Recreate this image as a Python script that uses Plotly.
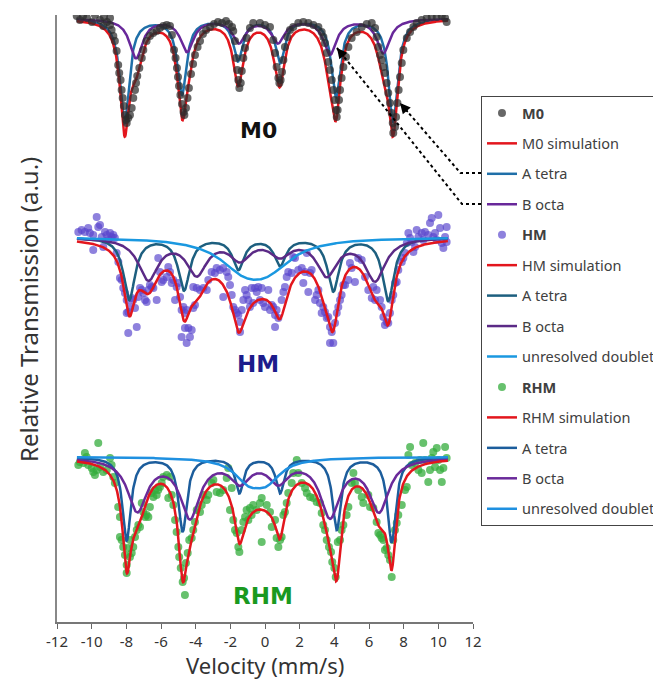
import numpy as np
import plotly.graph_objects as go

# ---------------- axis ranges and ticks ----------------
X_RANGE = [-12, 12]      # velocity, mm/s
Y_RANGE = [0, 607]       # relative transmission, a.u. (spectra stacked)
x_tick_values = [-12, -10, -8, -6, -4, -2, 0, 2, 4, 6, 8, 10, 12]
x_tick_labels = ["-12", "-10", "-8", "-6", "-4", "-2", "0", "2", "4", "6", "8", "10", "12"]

# ---------------- measured spectra ----------------
# M0
m0_v = [-10.86, -10.68, -10.50, -10.27, -9.98, -9.81, -9.52, -9.33, -9.29, -9.12, -8.94, -8.94, -8.85,
        -8.75, -8.66, -8.56, -8.47, -8.41, -8.33, -8.27, -8.21, -8.14, -8.08, -8.02, -7.98, -7.89, -7.79,
        -7.69, -7.60, -7.50, -7.44, -7.37, -7.25, -7.11, -7.02, -6.83, -6.64, -6.45, -6.25, -6.06, -5.87,
        -5.67, -5.48,
        -5.37, -5.25, -5.16, -5.08, -5.02, -4.96, -4.88, -4.79, -4.70, -4.65, -4.56, -4.47, -4.39, -4.27,
        -4.15, -4.04, -3.89, -3.75, -3.58, -3.40, -3.17, -2.94, -2.71, -2.48, -2.25, -2.08, -1.90,
        -1.83, -1.73, -1.67, -1.60, -1.54, -1.48, -1.40, -1.34, -1.25, -1.15, -1.06, -0.87, -0.68, -0.29, 0.00,
        0.29, 0.48, 0.58, 0.67, 0.77, 0.83, 0.90, 0.98, 1.06, 1.15, 1.29, 1.44, 1.63, 1.92, 2.21, 2.50,
        2.79, 3.08, 3.27,
        3.37, 3.46, 3.56, 3.65, 3.75, 3.85, 3.94, 4.02, 4.10, 4.14, 4.19, 4.27, 4.33, 4.42, 4.52, 4.67,
        4.81, 5.00, 5.29, 5.58, 5.87, 6.16, 6.35,
        6.44, 6.54, 6.64, 6.73, 6.83, 6.92, 7.02, 7.11, 7.21, 7.31, 7.37, 7.40, 7.50, 7.56, 7.64, 7.71,
        7.79, 7.89, 7.98, 8.18, 8.37, 8.56, 8.75, 9.04, 9.33, 9.62, 9.91, 10.20, 10.39, 10.48]
m0_t = [606, 602, 606, 604, 600, 607, 602, 596, 605, 600, 604, 597, 592,
        586, 581, 571, 557, 549, 542, 532, 524, 516, 507, 502, 499, 504, 507,
        514, 524, 532, 539, 546, 554, 564, 572, 581, 586, 589, 591, 594, 596,
        597, 596,
        587, 572, 564, 554, 545, 536, 527, 518, 510, 507, 514, 524, 534, 548,
        558, 567, 575, 581, 588, 592, 595, 598, 600, 599, 601, 598, 595,
        591, 581, 564, 552, 542, 534, 539, 551, 564, 574, 584, 594, 599, 599, 597,
        595, 582, 569, 555, 544, 539, 542, 550, 562, 575, 585, 592, 595, 599, 600, 599,
        597, 595, 590,
        585, 579, 569, 560, 552, 542, 532, 522, 512, 505, 512, 522, 532, 544, 555, 565,
        575, 584, 590, 595, 598, 599, 594,
        585, 575, 567, 562, 555, 549, 539, 529, 519, 509, 499, 489, 495, 505, 519, 532,
        545, 559, 572, 584, 590, 595, 599, 602, 604, 605, 605, 606, 604, 600]

# HM
hm_v = [-10.77, -10.58, -10.39, -10.20, -10.10, -9.91, -9.71, -9.62, -9.52, -9.42, -9.23, -9.13, -8.94,
        -8.85, -8.75, -8.66, -9.91, -9.33, -9.04, -8.56, -8.46, -8.37, -8.27, -8.18, -8.08, -7.98, -7.98,
        -7.89, -7.79, -7.69, -7.60, -7.50, -7.40, -7.89, -7.31, -7.21, -7.11, -7.02, -6.92, -6.83, -6.73,
        -6.64, -6.54, -6.44, -6.25, -6.16, -6.06, -5.96, -5.87, -5.67, -5.58, -5.48, -5.38, -5.29, -5.19,
        -5.10, -5.00, -4.90, -4.81, -4.71, -4.62, -4.52, -4.42, -4.33, -4.23, -4.62, -4.81, -4.52, -4.14,
        -4.04, -4.14, -3.94, -3.75, -3.56, -3.36, -3.27, -3.08, -2.89, -2.79, -2.60, -2.41, -2.21, -2.12,
        -2.41, -2.02, -1.92, -1.83, -1.73, -1.63, -1.54, -1.44, -1.44, -1.34, -1.25, -1.15, -1.06, -0.96,
        -0.87, -0.77, -0.68, -0.58, -0.48, -0.39, -0.29, -0.19, -0.10, 0.00, 0.19, 0.29, 0.39, 0.48,
        0.58, 0.67, 0.58, 0.77, 0.96, 1.06, 1.15, 1.25, 1.34, 1.54, 1.63, 1.73, 1.92, 2.12, 2.21, 2.31,
        2.41, 2.50, 2.60, 2.69, 2.89, 2.98, 3.08, 3.17, 3.27, 3.36, 3.46, 3.56, 3.65, 3.75, 3.85, 3.75,
        3.94, 4.04, 4.14, 4.23, 4.33, 4.42, 4.52, 4.62, 4.81, 4.90, 5.00, 5.19, 5.38, 5.58, 5.77, 5.96,
        6.16, 6.25, 6.35, 6.44, 6.64, 6.73, 6.83, 6.92, 7.02, 7.11, 7.21, 7.31, 7.40, 7.50, 7.60, 7.69,
        7.89, 7.98, 8.08, 8.18, 8.27, 8.37, 8.46, 8.56, 8.66, 8.75, 8.85, 9.04, 9.13, 9.23, 9.42, 9.52,
        9.62, 9.71, 9.81, 9.91, 10.00, 10.10, 10.20, 10.29, 10.39, 10.48, 10.48]
hm_t = [390, 392, 390, 394, 389, 387, 405, 395, 397, 385, 390, 387, 389,
        385, 387, 384, 372, 375, 382, 369, 360, 344, 342, 334, 329, 322, 309,
        310, 315, 324, 322, 314, 295, 289, 325, 334, 332, 329, 322, 320, 332,
        337, 335, 334, 322, 364, 350, 340, 342, 345, 355, 350, 339, 342, 322,
        335, 339, 325, 312, 315, 309, 312, 294, 285, 292, 294, 285, 279, 314,
        317, 335, 334, 332, 334, 332, 342, 350, 349, 354, 352, 354, 350, 345,
        325, 337, 327, 315, 312, 309, 307, 300, 290, 312, 322, 332, 327, 322,
        315, 334, 319, 334, 330, 335, 322, 334, 319, 315, 332, 312, 317, 315,
        307, 312, 295, 304, 322, 330, 335, 345, 350, 349, 365, 364, 352, 354, 339, 350,
        369, 330, 349, 352, 322, 327, 332, 319, 309, 315, 310, 304, 305, 295, 290, 279,
        279, 299, 309, 315, 322, 327, 337, 337, 342, 359, 354, 340, 364, 362, 345, 332,
        324, 335, 322, 332, 322, 315, 305, 297, 300, 299, 309, 322, 327, 339, 340, 352,
        360, 364, 369, 379, 389, 384, 380, 370, 375, 392, 385, 389, 382, 390, 387, 399,
        404, 385, 389, 382, 407, 394, 379, 374, 385, 395, 380]

# RHM
rhm_v = [-9.62, -10.77, -10.68, -10.48, -10.39, -10.29, -10.20, -10.00, -9.91, -9.81, -9.71, -9.52, -9.33,
         -9.13, -8.94, -8.85, -8.75, -8.66, -8.47, -8.37, -8.37, -8.27, -8.18, -8.08, -7.98, -7.98, -7.89,
         -7.79, -7.69, -7.79, -7.60, -7.50, -7.40, -7.31, -7.21, -7.11, -7.02, -6.92, -6.83, -6.73, -6.64,
         -6.54, -6.44, -6.35, -6.25, -6.16, -6.06, -5.96, -5.87, -5.67, -5.58, -5.48, -5.38, -5.29, -5.19,
         -5.10, -5.00, -4.95, -4.86, -4.75, -4.67, -4.62, -4.56, -4.46, -4.37, -4.23, -4.14, -4.04, -3.94,
         -3.75, -3.65, -3.56, -3.36, -3.27, -3.08, -2.98, -2.79, -2.60, -2.41, -2.21, -2.12, -2.02, -1.92,
         -1.83, -1.73, -1.63, -1.54, -1.48, -1.34, -1.25, -1.15, -1.06, -0.96, -0.87, -0.77, -0.68, -0.48,
         -0.29, -0.19, -0.19, 0.10, 0.29, 0.39, 0.58, 0.67, 0.77, 0.87, 0.96, 1.06, 1.15, 1.25,
         1.34, 1.54, 1.63, 1.83, 1.92, 2.12, 2.31, 2.41, 2.60, 2.79, 2.98, 3.17, 3.27, 3.36,
         3.46, 3.56, 3.69, 3.81, 3.88, 4.00, 4.08, 4.20, 4.33, 4.42, 4.52, 4.71, 4.81, 5.00,
         5.10, 5.19, 5.38, 5.58, 5.67, 5.96, 6.06, 6.25, 6.44, 6.54, 6.64, 6.73, 6.83, 6.92,
         7.02, 7.11, 7.21, 7.31, 7.40, 7.50, 7.60, 7.69, 7.89, 8.08, 8.18, 8.27, 8.37, 8.46,
         8.66, 8.85, 8.94, 9.04, 9.13, 9.23, 9.42, 9.52, 9.62, 9.71, 9.81, 9.91, 10.00, 10.10,
         10.20, 10.29, 10.39, 10.48]
rhm_t = [179, 157, 160, 159, 169, 165, 157, 154, 150, 147, 152, 155, 150,
         152, 164, 157, 145, 139, 115, 105, 85, 82, 75, 67, 57, 49, 74,
         65, 69, 82, 75, 85, 92, 97, 95, 119, 110, 105, 107, 105, 115,
         129, 125, 132, 127, 132, 135, 139, 145, 147, 124, 145, 127, 117, 102,
         90, 75, 65, 54, 40, 44, 27, 59, 69, 82, 84, 92, 100, 112,
         110, 117, 127, 122, 127, 139, 142, 130, 129, 132, 144, 154, 112, 134,
         102, 92, 89, 75, 70, 92, 100, 105, 112, 102, 114, 107, 117, 112,
         119, 80, 124, 117, 110, 95, 102, 84, 75, 82, 85, 107, 110, 119,
         129, 139, 149, 162, 149, 139, 134, 129, 125, 124, 120, 119, 109, 97,
         92, 82, 75, 70, 60, 54, 45, 80, 82, 92, 97, 107, 115, 139,
         149, 139, 132, 125, 119, 127, 115, 114, 100, 89, 87, 84, 82, 72,
         74, 67, 62, 45, 82, 92, 99, 107, 117, 132, 135, 167, 175, 157,
         159, 152, 162, 149, 179, 162, 140, 152, 164, 170, 155, 174, 162, 152,
         140, 154, 175, 164]

assert len(m0_v) == len(m0_t) and len(hm_v) == len(hm_t) and len(rhm_v) == len(rhm_t)

# ---------------- fitted sub-spectra ----------------
# line positions (mm/s), line depths (a.u.), half width at half maximum (mm/s)
m0_base = 603.5
m0_a_pos = [-8.10, -4.79, -1.56, 0.87, 4.10, 7.39]
m0_a_depth = [104, 75, 41, 43, 77, 103]
m0_a_hw = 0.32
m0_b_pos = [-7.44, -4.50, -1.50, 0.75, 3.75, 6.83]
m0_b_depth = [39, 32, 23, 23, 35, 34]
m0_b_hw = 0.45

hm_base = 385
hm_a_pos = [-7.83, -4.67, -1.54, 0.87, 3.94, 7.11]
hm_a_depth = [62, 52, 31, 27, 53, 63]
hm_a_hw = 0.40
hm_b_pos = [-6.73, -3.94, -1.44, 0.87, 3.56, 6.35]
hm_b_depth = [41, 35, 20, 16, 36, 42]
hm_b_hw = 0.70
hm_d_pos = [-1.25, 0.15]
hm_d_depth = [25, 25]
hm_d_hw = 1.7

rhm_base = 165
rhm_a_pos = [-7.98, -4.75, -1.48, 0.87, 4.14, 7.31]
rhm_a_depth = [83, 74, 35, 35, 72, 85]
rhm_a_hw = 0.29
rhm_b_pos = [-7.37, -4.33, -1.44, 0.77, 3.75, 6.58]
rhm_b_depth = [52, 58, 22, 22, 57, 52]
rhm_b_hw = 0.68
rhm_d_pos = [-0.95, 0.10]
rhm_d_depth = [20, 20]
rhm_d_hw = 1.0

v_fit = np.linspace(-10.85, 10.55, 801)


def absorption(v, positions, depths, hw):
    """Sum of Lorentzian absorption lines."""
    v = np.asarray(v)[:, None]
    p = np.asarray(positions)[None, :]
    d = np.asarray(depths)[None, :]
    return (d / (1.0 + ((v - p) / hw) ** 2)).sum(axis=1)


m0_a = absorption(v_fit, m0_a_pos, m0_a_depth, m0_a_hw)
m0_b = absorption(v_fit, m0_b_pos, m0_b_depth, m0_b_hw)
hm_a = absorption(v_fit, hm_a_pos, hm_a_depth, hm_a_hw)
hm_b = absorption(v_fit, hm_b_pos, hm_b_depth, hm_b_hw)
hm_d = absorption(v_fit, hm_d_pos, hm_d_depth, hm_d_hw)
rhm_a = absorption(v_fit, rhm_a_pos, rhm_a_depth, rhm_a_hw)
rhm_b = absorption(v_fit, rhm_b_pos, rhm_b_depth, rhm_b_hw)
rhm_d = absorption(v_fit, rhm_d_pos, rhm_d_depth, rhm_d_hw)

# ---------------- styling ----------------
RED = "#e3161d"
FONT = "Noto Sans"
LW = 2.5

fig = go.Figure()


def line(y, name, color, rank):
    fig.add_trace(go.Scatter(
        x=v_fit, y=y, mode="lines", name=name,
        line=dict(color=color, width=LW),
        legendgroup=f"g{rank}", legendrank=rank, hoverinfo="skip"))


def points(v, t, name, color, rank):
    fig.add_trace(go.Scatter(
        x=v, y=t, mode="markers", name=name,
        marker=dict(color=color, size=8, line=dict(width=0)),
        legendgroup=f"g{rank}", legendrank=rank))


# M0 (points drawn over the fit)
line(m0_base - m0_a, "A tetra", "#1f6fa8", 3)
line(m0_base - m0_b, "B octa", "#68289a", 4)
line(m0_base - m0_a - m0_b, "M0 simulation", RED, 2)
points(m0_v, m0_t, "<b>M0</b>", "rgba(45,45,45,0.72)", 1)

# HM
points(hm_v, hm_t, "<b>HM</b>", "rgba(88,70,205,0.68)", 5)
line(hm_base - hm_a, "A tetra", "#1d5f7f", 7)
line(hm_base - hm_b, "B octa", "#5b2a86", 8)
line(hm_base - hm_d, "unresolved doublet", "#1a98e0", 9)
line(hm_base - hm_a - hm_b - hm_d, "HM simulation", RED, 6)

# RHM
points(rhm_v, rhm_t, "<b>RHM</b>", "rgba(52,172,60,0.75)", 10)
line(rhm_base - rhm_a, "A tetra", "#1c5d9c", 12)
line(rhm_base - rhm_b, "B octa", "#6a2a9a", 13)
line(rhm_base - rhm_d, "unresolved doublet", "#1f90e0", 14)
line(rhm_base - rhm_a - rhm_b - rhm_d, "RHM simulation", RED, 11)


def to_paper(v, t):
    return ((v - X_RANGE[0]) / (X_RANGE[1] - X_RANGE[0]),
            (t - Y_RANGE[0]) / (Y_RANGE[1] - Y_RANGE[0]))


# dotted leaders from the legend to the M0 sub-spectra
leaders = [
    # (tip velocity, tip transmission, elbow x, row y, legend edge x, arrow offset px)
    (7.79, 519, 0.970, 0.7397, 1.0192, (9, 10.5)),
    (4.15, 574, 0.9736, 0.6886, 1.0192, (8, 10)),
]
shapes = []
annotations = []
for tv, tt, ex, ry, lx, (axp, ayp) in leaders:
    px, py = to_paper(tv, tt)
    shapes.append(dict(
        type="path", xref="paper", yref="paper",
        path=f"M {lx} {ry} L {ex} {ry} L {px} {py}",
        line=dict(color="black", width=2, dash="dot")))
    annotations.append(dict(
        x=tv, y=tt, xref="x", yref="y", text="", showarrow=True,
        ax=axp, ay=ayp, arrowhead=2, arrowsize=1.3, arrowwidth=1.6,
        arrowcolor="black", standoff=0))

# sample labels
annotations += [
    dict(x=-0.35, y=492, xref="x", yref="y", text="<b>M0</b>", showarrow=False,
         font=dict(family="DejaVu Sans", size=22, color="#111111")),
    dict(x=-0.40, y=258, xref="x", yref="y", text="<b>HM</b>", showarrow=False,
         font=dict(family="DejaVu Sans", size=23, color="#1c1c8c")),
    dict(x=-0.12, y=26, xref="x", yref="y", text="<b>RHM</b>", showarrow=False,
         font=dict(family="DejaVu Sans", size=23, color="#1a991f")),
    # axis titles
    dict(x=-0.0697, y=0.514, xref="paper", yref="paper", text="Relative Transmission (a.u.)",
         textangle=-90, showarrow=False, xanchor="center", yanchor="middle",
         font=dict(family=FONT, size=24, color="#333333")),
    dict(x=0.5, y=-0.071, xref="paper", yref="paper", text="Velocity (mm/s)",
         showarrow=False, xanchor="center", yanchor="middle",
         font=dict(family=FONT, size=22, color="#333333")),
]

fig.update_layout(
    width=653, height=684,
    margin=dict(l=57, r=180, t=15, b=62, autoexpand=False),
    paper_bgcolor="white", plot_bgcolor="white",
    font=dict(family=FONT, color="#333333"),
    showlegend=True,
    legend=dict(
        x=1.0192, y=0.8666, xanchor="left", yanchor="top",
        bgcolor="white", bordercolor="#444444", borderwidth=1,
        font=dict(family=FONT, size=14.5, color="#404040"),
        traceorder="grouped", tracegroupgap=8.6, itemwidth=30),
    shapes=shapes,
    annotations=annotations,
    xaxis=dict(
        range=X_RANGE, tickmode="array", tickvals=x_tick_values, ticktext=x_tick_labels,
        ticks="outside", ticklen=5, tickwidth=1.2,
        tickcolor="#666666", showline=True, linecolor="#777777", linewidth=1.5,
        showgrid=False, zeroline=False,
        tickfont=dict(family=FONT, size=15, color="#333333")),
    yaxis=dict(
        range=Y_RANGE, showline=True, linecolor="#888888", linewidth=1.5,
        showticklabels=False, ticks="", showgrid=False, zeroline=False),
)

fig.write_html("out.html")
